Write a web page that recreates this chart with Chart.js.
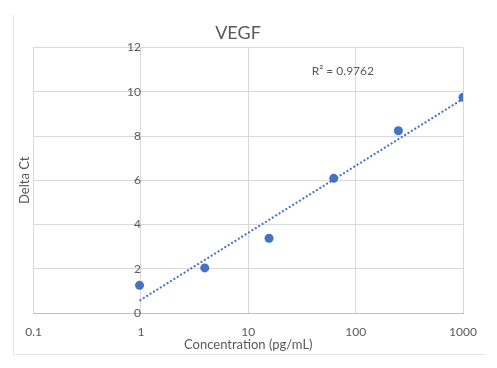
<!DOCTYPE html>
<html>
<head>
<meta charset="utf-8">
<script src="https://cdn.jsdelivr.net/npm/chart.js@4"></script>
<style>
  html, body { margin: 0; padding: 0; background: #ffffff; }
  #wrap { width: 497px; height: 368px; }
</style>
</head>
<body>
<div id="wrap"><canvas id="vegfChart" width="497" height="368"></canvas></div>
<script>
// data
const concentration = [0.97, 3.93, 15.6, 62.5, 250, 1000];
const deltaCt = [1.25, 2.04, 3.38, 6.09, 8.24, 9.75];

// dotted trendline ends (log fit as drawn by the spreadsheet)
const trendX = [0.97, 1000];
const trendY = [0.56, 9.68];

const xTicks = [0.1, 1, 10, 100, 1000];
const yTicks = [0, 2, 4, 6, 8, 10, 12];
const rSquaredLabel = "R\u00b2 = 0.9762";

const textColor = "#595959";
const gridColor = "#d9d9d9";
const blue = "#4472C4";
const fontFamily = "Lato, 'Open Sans', sans-serif";

//Outer frame + R² label
const decorations = {
    id: "decorations",
    beforeDraw(chart) {
        const ctx = chart.ctx;
        ctx.save();
        ctx.strokeStyle = "#e4e4e4";
        ctx.lineWidth = 1;
        ctx.beginPath();
        ctx.moveTo(13.5, 15);
        ctx.lineTo(13.5, 354.5);
        ctx.lineTo(485, 354.5);
        ctx.stroke();
        ctx.restore();
    },
    afterDatasetsDraw(chart) {
        const ctx = chart.ctx;
        const xs = chart.scales.x;
        const ys = chart.scales.y;
        ctx.save();
        ctx.fillStyle = textColor;
        ctx.font = "12px " + fontFamily;
        ctx.textAlign = "center";
        ctx.textBaseline = "middle";
        ctx.fillText(rSquaredLabel, xs.getPixelForValue(76), ys.getPixelForValue(10.95));
        ctx.restore();
    }
};

const ctx = document.getElementById("vegfChart").getContext("2d");

new Chart(ctx, {
    type: "scatter",
    data: {
        datasets: [
            {
                label: "Delta Ct",
                data: concentration.map((c, i) => ({ x: c, y: deltaCt[i] })),
                backgroundColor: blue,
                borderColor: blue,
                pointRadius: 4.5,
                pointBorderWidth: 0,
                order: 1
            },
            {
                label: "Trend",
                type: "line",
                data: trendX.map((c, i) => ({ x: c, y: trendY[i] })),
                borderColor: blue,
                borderWidth: 2,
                borderDash: [2, 2],
                pointRadius: 0,
                fill: false,
                order: 2
            }
        ]
    },
    options: {
        responsive: false,
        animation: false,
        events: [],
        layout: {
            padding: { left: 13, right: 34, top: 12, bottom: 15 }
        },
        plugins: {
            legend: { display: false },
            tooltip: { enabled: false },
            title: {
                display: true,
                text: "VEGF",
                color: textColor,
                font: { family: fontFamily, size: 18, weight: "normal" },
                padding: { top: 10, bottom: 4 }
            }
        },
        scales: {
            x: {
                type: "logarithmic",
                min: 0.1,
                max: 1000,
                afterBuildTicks: scale => {
                    scale.ticks = xTicks.map(v => ({ value: v }));
                },
                afterFit: scale => {
                    scale.height = 40;
                },
                ticks: {
                    color: textColor,
                    font: { family: fontFamily, size: 12 },
                    padding: 12,
                    maxRotation: 0,
                    autoSkip: false,
                    callback: value => String(value)
                },
                grid: { color: gridColor, drawTicks: false },
                border: { color: "#bfbfbf" },
                title: {
                    display: true,
                    text: "Concentration (pg/mL)",
                    color: textColor,
                    font: { family: fontFamily, size: 13 },
                    padding: { top: 0, bottom: 0 }
                }
            },
            y: {
                position: "left",
                min: 0,
                max: 12,
                afterBuildTicks: scale => {
                    scale.ticks = yTicks.map(v => ({ value: v }));
                },
                ticks: { display: false },
                grid: { color: gridColor, drawTicks: false },
                border: { color: gridColor },
                title: {
                    display: true,
                    text: "Delta Ct",
                    color: textColor,
                    font: { family: fontFamily, size: 13 },
                    padding: { top: 4, bottom: 1 }
                }
            },
            yLabels: {
                position: { x: 1 },
                min: 0,
                max: 12,
                afterBuildTicks: scale => {
                    scale.ticks = yTicks.map(v => ({ value: v }));
                },
                ticks: {
                    color: textColor,
                    font: { family: fontFamily, size: 12 },
                    padding: 10
                },
                grid: { display: false, drawTicks: false },
                border: { display: false }
            }
        }
    },
    plugins: [decorations]
});
</script>
</body>
</html>
